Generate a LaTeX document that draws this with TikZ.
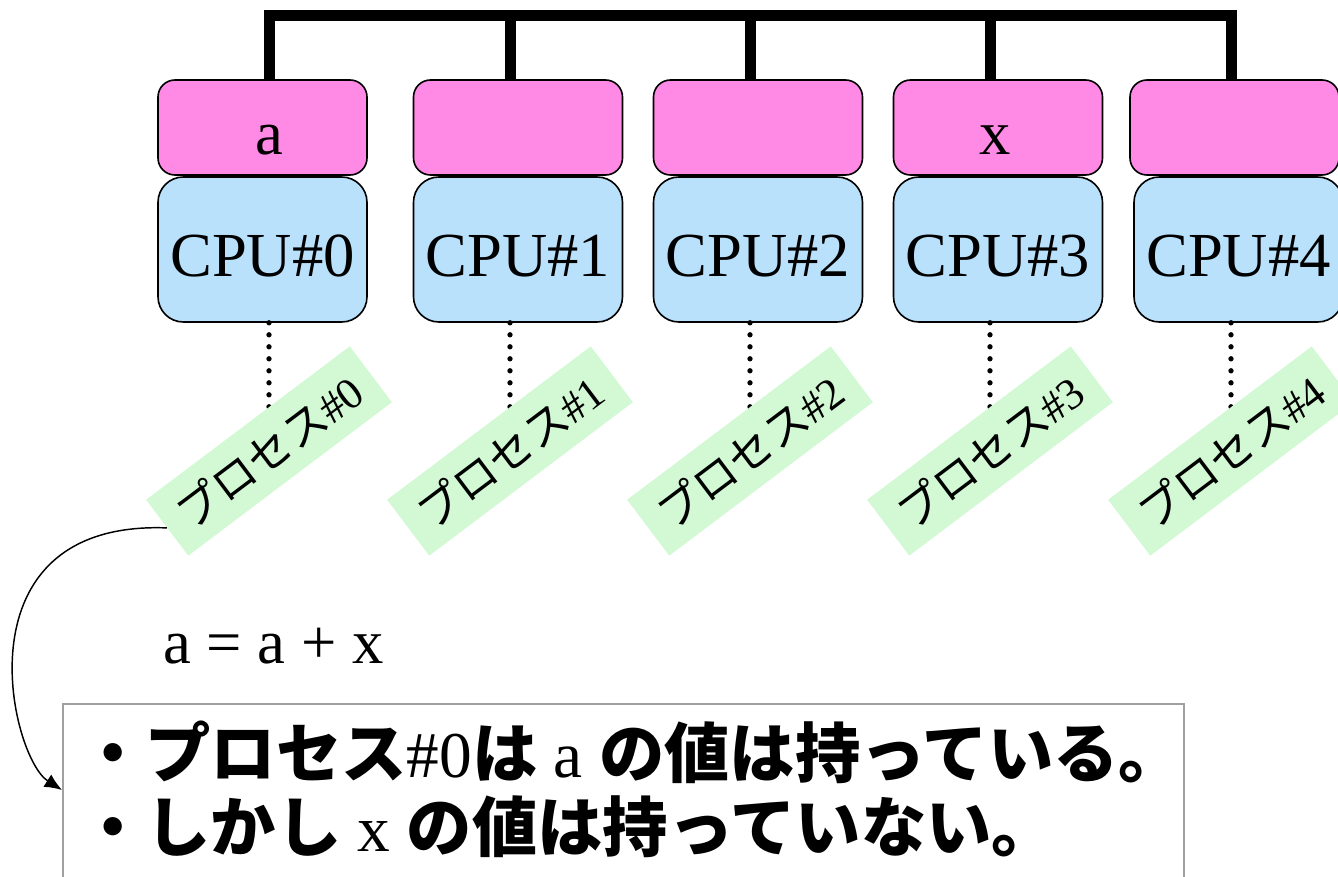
\documentclass[tikz,border=0pt]{standalone}
\usepackage{fontspec}
\setmainfont{Liberation Serif}
\newfontfamily\cjk{Noto Sans CJK JP}
\usetikzlibrary{arrows.meta}
\definecolor{memc}{HTML}{FF8AE5}
\definecolor{cpuc}{HTML}{B9E1FC}
\definecolor{procc}{HTML}{D3F9D4}
\definecolor{boxc}{HTML}{A0A0A0}
\begin{document}
\begin{tikzpicture}[x=0.75pt,y=-0.75pt,
  mem/.style={draw, line width=1.2pt, fill=memc, rounded corners=12.75pt,
    minimum width=156.75pt, minimum height=71.25pt, inner sep=0pt,
    font=\fontsize{47}{56}\selectfont, text height=44.6pt, text depth=4.7pt},
  cpu/.style={draw, line width=1.2pt, fill=cpuc, rounded corners=19pt,
    minimum width=156.75pt, minimum height=108.75pt, inner sep=0pt,
    font=\fontsize{47}{56}\selectfont, text height=44.6pt, text depth=4.7pt},
  proc/.style={fill=procc, rotate=37, minimum width=191.25pt,
    minimum height=52.5pt, inner sep=0pt, font=\fontsize{33}{38}\selectfont},
  bus/.style={line width=8.25pt},
  dots/.style={line width=4pt, line cap=round, dash pattern=on 0pt off 9pt},
  arr/.style={line width=1.1pt, -{Latex[length=13pt,width=11pt]}},
  tbox/.style={draw=boxc, line width=1.5pt, minimum width=840.75pt,
    minimum height=187.5pt, inner sep=0pt, anchor=north west},
  big/.style={inner sep=0pt, anchor=base west, font=\fontsize{47}{56}\selectfont},
  note/.style={inner sep=0pt, anchor=base west, font=\fontsize{49}{58}\selectfont}
]
\useasboundingbox (0,0) rectangle (1338,877);
\clip (0,0) rectangle (1338,877);

% memories and CPUs
\node[mem] (m0) at (262.5,127.5) {\hspace*{11pt}a};
\node[mem] (m1) at (518,127.5) {};
\node[mem] (m2) at (758,127.5) {};
\node[mem] (m3) at (998,127.5) {\hspace*{-4pt}x};
\node[mem] (m4) at (1234.5,127.5) {};

\node[cpu] (c0) at (262.5,249.5) {CPU\#0};
\node[cpu] (c1) at (518,249.5) {CPU\#1};
\node[cpu] (c2) at (758,249.5) {CPU\#2};
\node[cpu] (c3) at (998,249.5) {CPU\#3};
\node[cpu] (c4) at (1238.5,249.5) {CPU\#4};

% bus
\coordinate (t0) at (269,16);
\coordinate (t1) at (510,16);
\coordinate (t2) at (750,16);
\coordinate (t3) at (990,16);
\coordinate (t4) at (1231,16);
\draw[bus] (t0 |- m0.north) -- (t0) -- (t4) -- (t4 |- m4.north);
\draw[bus] (t1) -- (t1 |- m1.north);
\draw[bus] (t2) -- (t2 |- m2.north);
\draw[bus] (t3) -- (t3 |- m3.north);

% processes
\coordinate (p0) at (269,451);
\coordinate (p1) at (510,451);
\coordinate (p2) at (750,451);
\coordinate (p3) at (990,451);
\coordinate (p4) at (1231,451);
\draw[dots] (t0 |- c0.south) -- (p0);
\draw[dots] (t1 |- c1.south) -- (p1);
\draw[dots] (t2 |- c2.south) -- (p2);
\draw[dots] (t3 |- c3.south) -- (p3);
\draw[dots] (t4 |- c4.south) -- (p4);
\node[proc] (g0) at (p0) {{\cjk プロセス}\#0};
\node[proc] (g1) at (p1) {{\cjk プロセス}\#1};
\node[proc] (g2) at (p2) {{\cjk プロセス}\#2};
\node[proc] (g3) at (p3) {{\cjk プロセス}\#3};
\node[proc] (g4) at (p4) {{\cjk プロセス}\#4};

% equation and note
\node[big] (eq) at (163,663) {a = a + x};
\node[tbox] (tb) at (62,703) {};
\node[note] (l1) at (80,777) {{\cjk\bfseries ・プロセス}\#0{\cjk\bfseries は} a {\cjk\bfseries の値は持っている。}};
\node[note] (l2) at (80,851) {{\cjk\bfseries ・しかし} x {\cjk\bfseries の値は持っていない。}};

\coordinate (ae) at (62,790);
\draw[arr] (g0.west) .. controls (-45,520) and (10,757) .. (ae);
\end{tikzpicture}
\end{document}
